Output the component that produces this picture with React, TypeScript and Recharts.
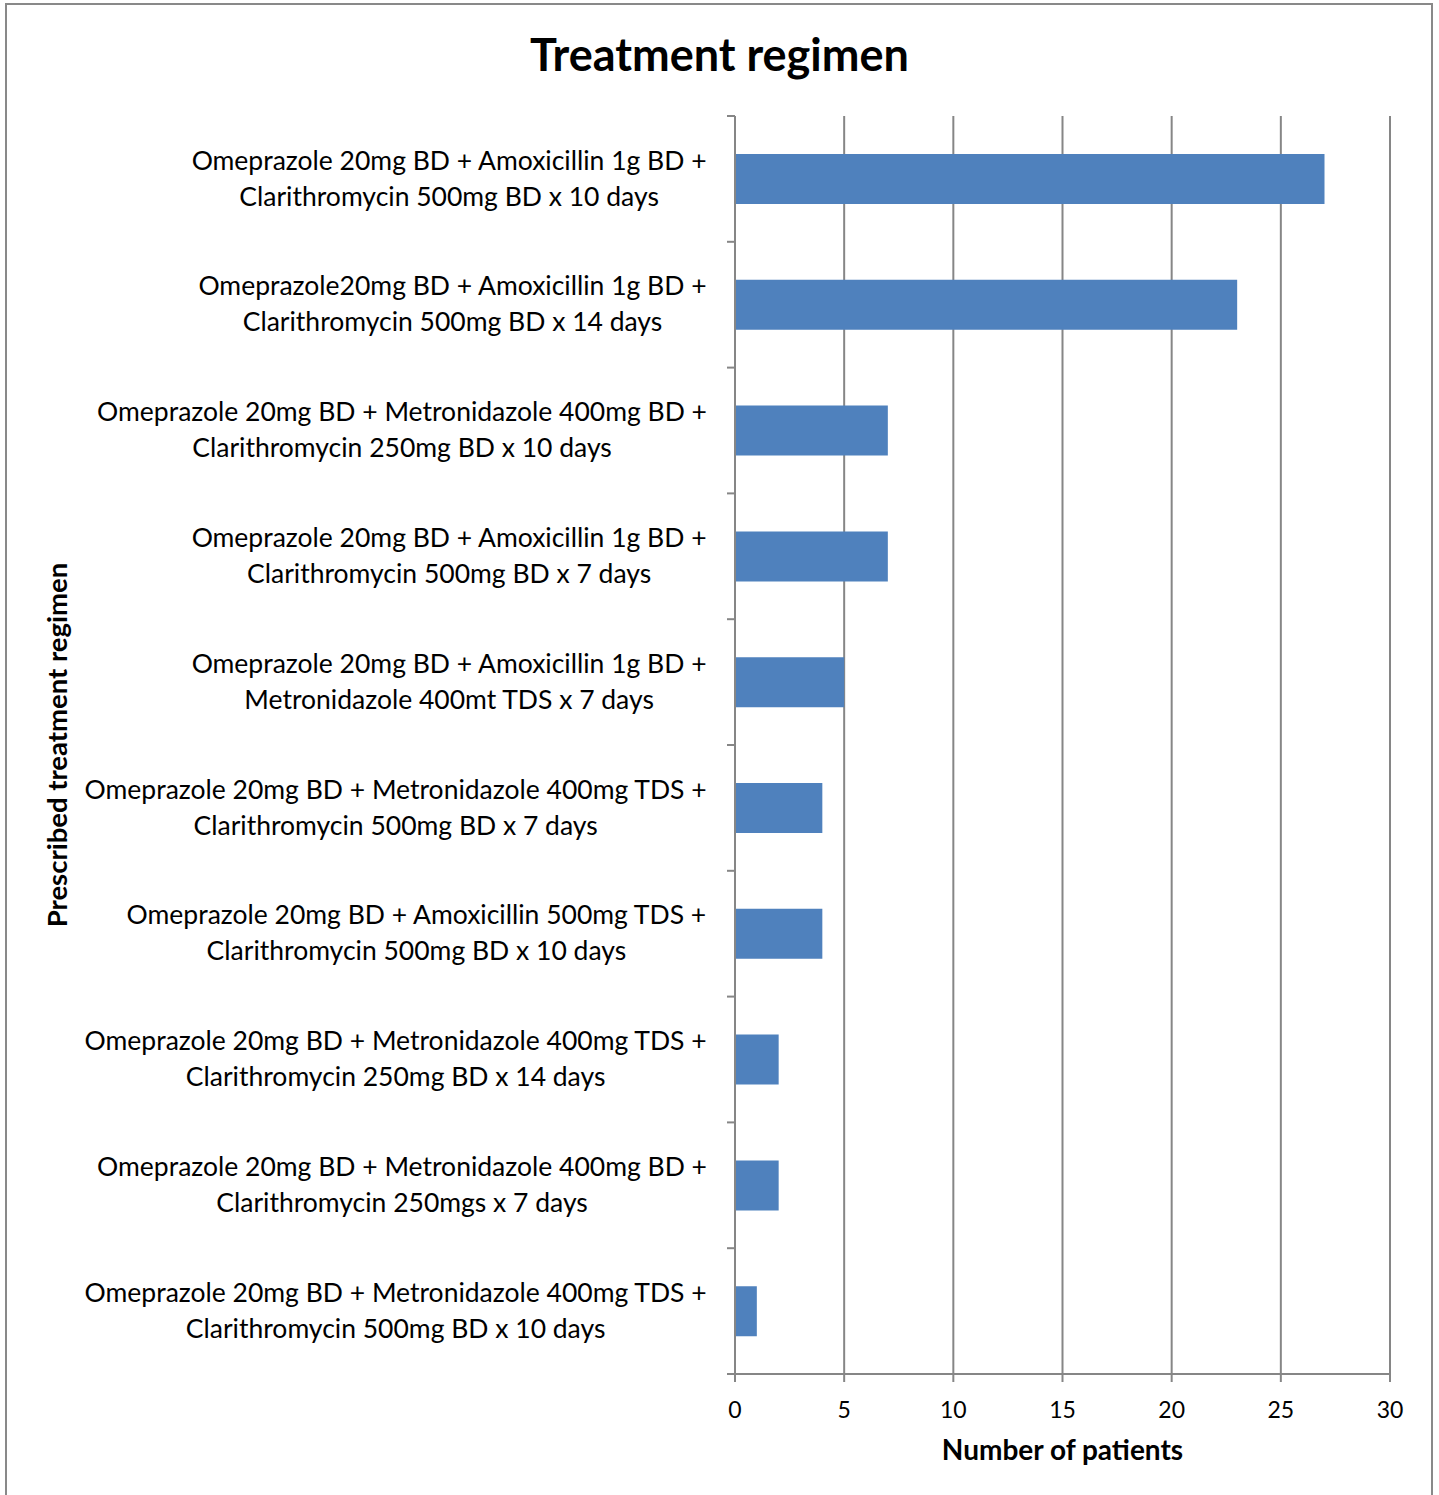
import React from "react";
import { BarChart, Bar, XAxis, YAxis, CartesianGrid } from "recharts";

const regimenLine1 = [
  "Omeprazole 20mg BD + Amoxicillin 1g BD +",
  "Omeprazole20mg BD + Amoxicillin 1g BD +",
  "Omeprazole 20mg BD + Metronidazole 400mg BD +",
  "Omeprazole 20mg BD + Amoxicillin 1g BD +",
  "Omeprazole 20mg BD + Amoxicillin 1g BD +",
  "Omeprazole 20mg BD + Metronidazole 400mg TDS +",
  "Omeprazole 20mg BD + Amoxicillin 500mg TDS +",
  "Omeprazole 20mg BD + Metronidazole 400mg TDS +",
  "Omeprazole 20mg BD + Metronidazole 400mg BD +",
  "Omeprazole 20mg BD + Metronidazole 400mg TDS +",
];
const regimenLine2 = [
  "Clarithromycin 500mg BD x 10 days",
  "Clarithromycin 500mg BD x 14 days",
  "Clarithromycin 250mg BD x 10 days",
  "Clarithromycin 500mg BD x 7 days",
  "Metronidazole 400mt TDS x 7 days",
  "Clarithromycin 500mg BD x 7 days",
  "Clarithromycin 500mg BD x 10 days",
  "Clarithromycin 250mg BD x 14 days",
  "Clarithromycin 250mgs x 7 days",
  "Clarithromycin 500mg BD x 10 days",
];
const patients = [27, 23, 7, 7, 5, 4, 4, 2, 2, 1];
const xTicks = [0, 5, 10, 15, 20, 25, 30];

const categories = regimenLine1.map((l, i) => `${l} ${regimenLine2[i]}`);
const data = categories.map((name, i) => ({ name, value: patients[i] }));

const FONT = "Lato, 'Open Sans', sans-serif";
const GRAY = "#868686";
const TICK_FS = 26.5;

let measureCtx: CanvasRenderingContext2D | null = null;
const measure = (s: string) => {
  if (!measureCtx) {
    measureCtx = document.createElement("canvas").getContext("2d");
  }
  if (!measureCtx) return s.length * TICK_FS * 0.45;
  measureCtx.font = `${TICK_FS}px Lato, 'Open Sans', sans-serif`;
  return measureCtx.measureText(s).width;
};

const RegimenTick = (props: any) => {
  const { x, y, payload, index } = props;
  const i = categories.indexOf(payload.value);
  const off = payload.offset || 0;
  const axisX = x + 28;
  const w = Math.max(measure(regimenLine1[i]), measure(regimenLine2[i]));
  const cx = x - w / 2;
  return (
    <g>
      <line x1={axisX - 8} x2={axisX} y1={y - off} y2={y - off} stroke={GRAY} strokeWidth={2} />
      {index === categories.length - 1 && (
        <line x1={axisX - 8} x2={axisX} y1={y + off} y2={y + off} stroke={GRAY} strokeWidth={2} />
      )}
      <text x={cx} y={y} textAnchor="middle" fontFamily={FONT} fontSize={TICK_FS} fill="#000">
        <tspan x={cx} y={y - 16} dominantBaseline="middle">{regimenLine1[i]}</tspan>
        <tspan x={cx} y={y + 20} dominantBaseline="middle">{regimenLine2[i]}</tspan>
      </text>
    </g>
  );
};

const YLabel = (props: any) => {
  const vb = props.viewBox || {};
  const cx = vb.x + 60;
  const cy = vb.y + vb.height / 2;
  return (
    <text
      x={cx}
      y={cy}
      transform={`rotate(-90 ${cx} ${cy})`}
      textAnchor="middle"
      dominantBaseline="middle"
      fontFamily={FONT}
      fontWeight="bold"
      fontSize={27.5}
      fill="#000"
    >
      Prescribed treatment regimen
    </text>
  );
};

export default function App() {
  return (
    <div style={{ position: "absolute", left: 0, top: 0, width: 1439, height: 1495, background: "#fff", overflow: "hidden" }}>
      <div
        style={{
          position: "absolute",
          left: 5,
          top: 3,
          width: 1424,
          height: 1520,
          border: `2px solid #898989`,
          boxSizing: "content-box",
        }}
      />
      <div
        style={{
          position: "absolute",
          left: 0,
          top: 26,
          width: 1439,
          textAlign: "center",
          fontFamily: FONT,
          fontWeight: "bold",
          fontSize: 45,
          lineHeight: "56px",
        }}
      >
        Treatment regimen
      </div>
      <div style={{ position: "absolute", left: 0, top: 0 }}>
        <BarChart
          width={1439}
          height={1495}
          data={data}
          layout="vertical"
          margin={{ top: 116, right: 49, bottom: 35, left: 0 }}
          barCategoryGap="30%"
        >
          <CartesianGrid horizontal={false} vertical={true} stroke={GRAY} strokeWidth={2} />
          <XAxis
            type="number"
            domain={[0, 30]}
            ticks={xTicks}
            interval={0}
            height={86}
            tickSize={8}
            tickMargin={20}
            axisLine={{ stroke: GRAY, strokeWidth: 2 }}
            tickLine={{ stroke: GRAY, strokeWidth: 2 }}
            tick={{ fill: "#000", fontSize: 23, fontFamily: FONT }}
            label={{
              value: "Number of patients",
              position: "insideBottom",
              offset: 0,
              fill: "#000",
              fontSize: 28,
              fontWeight: "bold",
              fontFamily: FONT,
            }}
          />
          <YAxis
            type="category"
            dataKey="name"
            width={735}
            interval={0}
            tickSize={8}
            tickMargin={20}
            tickLine={false}
            axisLine={{ stroke: GRAY, strokeWidth: 2 }}
            tick={<RegimenTick />}
            label={<YLabel />}
          />
          <Bar dataKey="value" fill="#4F81BD" barSize={50} isAnimationActive={false} />
        </BarChart>
      </div>
    </div>
  );
}
